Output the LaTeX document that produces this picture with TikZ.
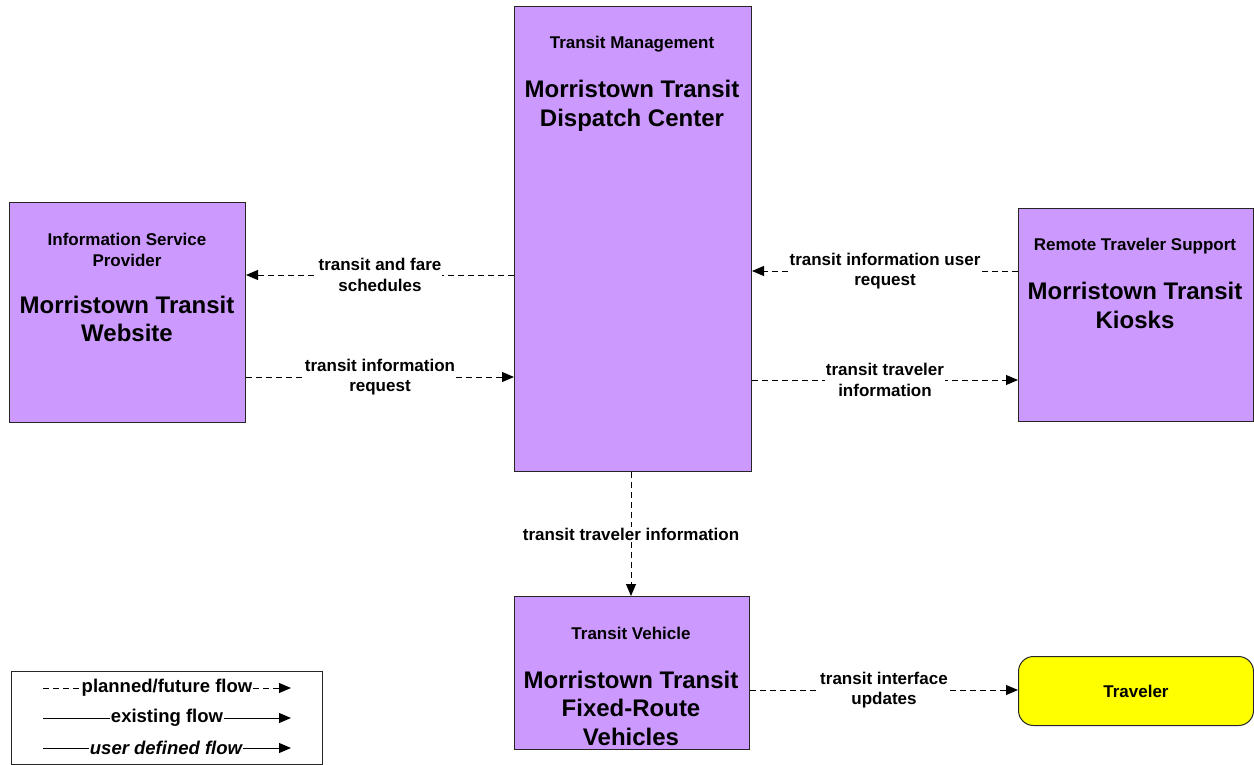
\documentclass[tikz,border=0pt]{standalone}
\usepackage{fontspec}
\setmainfont{Liberation Sans}
\usetikzlibrary{arrows.meta}
\definecolor{purp}{HTML}{CC99FF}
\definecolor{yel}{HTML}{FFFF00}
\begin{document}
\begin{tikzpicture}[x=1pt,y=-1pt,
  box/.style={draw=black!85, fill=purp, line width=1pt, anchor=north west, inner sep=0pt},
  flowline/.style={dash pattern=on 6pt off 4pt, line width=1pt, -{Triangle[length=12pt,width=10pt]}},
  solidline/.style={line width=1pt, -{Triangle[length=12pt,width=10pt]}},
  lbl/.style={fill=white, font=\bfseries\fontsize{17}{20.5}\selectfont, align=center, inner sep=1pt},
  small/.style={font=\bfseries\fontsize{17}{21}\selectfont, align=center, inner sep=0pt},
  big/.style={font=\bfseries\fontsize{24}{28.5}\selectfont, align=center, inner sep=0pt},
  leg/.style={fill=white, font=\bfseries\fontsize{18.5}{22}\selectfont, inner sep=0.5pt}]
\useasboundingbox (0,0) rectangle (1254,765);

% boxes
\node[box, minimum width=237pt, minimum height=465pt] (dc) at (514,6) {};
\node[box, minimum width=236pt, minimum height=220pt] (web) at (9,202) {};
\node[box, minimum width=235pt, minimum height=213pt] (kio) at (1018,208) {};
\node[box, minimum width=235pt, minimum height=153pt] (veh) at (514,596) {};
\node[draw=black!85, fill=yel, line width=1pt, rounded corners=15pt, anchor=north west,
      minimum width=235pt, minimum height=69pt, font=\bfseries\fontsize{17}{20}\selectfont] (trav) at (1018,656) {Traveler};

% box texts
\node[small] (dct) at (632,44) {Transit Management};
\node[big] (dcn) at (632,106) {Morristown Transit\\Dispatch Center};
\node[small] (webt) at (127,250) {Information Service\\Provider};
\node[big] (webn) at (127,319) {Morristown Transit\\Website};
\node[small] (kiot) at (1135,246) {Remote Traveler Support};
\node[big] (kion) at (1135,305.5) {Morristown Transit\\Kiosks};
\node[small] (veht) at (631,633) {Transit Vehicle};
\node[big] (vehn) at (631,708) {Morristown Transit\\Fixed-Route\\Vehicles};

% flows
\draw[flowline] (dc.west |- 0,275) -- node[lbl] (f1) {transit and fare\\schedules} (web.east |- 0,275);
\draw[flowline] (web.east |- 0,377) -- node[lbl] (f2) {transit information\\request} (dc.west |- 0,377);
\draw[flowline] (kio.west |- 0,271) -- node[lbl] (f3) {transit information user\\request} (dc.east |- 0,271);
\draw[flowline] (dc.east |- 0,380) -- node[lbl] (f4) {transit traveler\\information} (kio.west |- 0,380);
\draw[flowline] (dc.south -| 631,0) -- node[lbl] (f5) {transit traveler information} (veh.north -| 631,0);
\draw[flowline] (veh.east |- 0,690) -- node[lbl] (f6) {transit interface\\updates} (trav.west |- 0,690);

% legend
\node[draw=black!85, line width=1pt, anchor=north west, minimum width=311pt, minimum height=93pt, inner sep=0pt] (legbox) at (11,671) {};
\coordinate (l1a) at (43,688); \coordinate (l1b) at (291,688);
\coordinate (l2a) at (43,718); \coordinate (l2b) at (291,718);
\coordinate (l3a) at (43,748); \coordinate (l3b) at (291,748);
\draw[flowline] (l1a) -- (l1b);
\draw[solidline] (l2a) -- (l2b);
\draw[solidline] (l3a) -- (l3b);
\node[leg] (lt1) at (167,688) {planned/future flow};
\node[leg] (lt2) at (167,718) {existing flow};
\node[leg, font=\bfseries\itshape\fontsize{18.5}{22}\selectfont] (lt3) at (166,748) {user defined flow};
\end{tikzpicture}
\end{document}
